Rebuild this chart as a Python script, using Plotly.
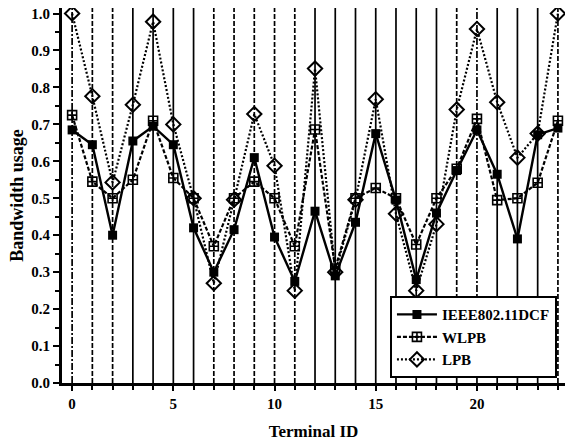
import plotly.graph_objects as go

terminal_ids = list(range(25))
ieee_dcf = [0.685, 0.645, 0.40, 0.655, 0.695, 0.645, 0.42, 0.30, 0.415, 0.61,
            0.395, 0.275, 0.465, 0.29, 0.435, 0.675, 0.495, 0.28, 0.46, 0.575,
            0.685, 0.565, 0.39, 0.672, 0.69]
wlpb = [0.725, 0.545, 0.50, 0.55, 0.71, 0.555, 0.50, 0.37, 0.50, 0.545,
        0.50, 0.37, 0.686, 0.31, 0.50, 0.528, 0.50, 0.375, 0.50, 0.58,
        0.715, 0.495, 0.50, 0.542, 0.71]
lpb = [1.0, 0.776, 0.543, 0.753, 0.978, 0.70, 0.50, 0.27, 0.496, 0.728,
       0.588, 0.25, 0.851, 0.30, 0.496, 0.768, 0.458, 0.25, 0.43, 0.74,
       0.958, 0.76, 0.61, 0.675, 1.0]
grid_styles = ["dashdot", "dash", "dash", "solid", "solid", "solid", "solid",
               "dash", "dash", "dash", "dash", "dash", "solid", "solid", "solid",
               "solid", "solid", "solid", "solid", "dash", "dashdot", "solid",
               "solid", "solid", "dash"]
y_ticks = [0, 0.1, 0.2, 0.3, 0.4, 0.5, 0.6, 0.7, 0.8, 0.9, 1.0]
x_ticks = [0, 5, 10, 15, 20]

FONT = "Liberation Serif"
DASH_MAP = {"solid": "solid", "dash": "5px,2px", "dashdot": "7px,2px,2px,2px"}

fig = go.Figure()

for xid, st in zip(terminal_ids, grid_styles):
    fig.add_shape(type="line", xref="x", yref="paper", x0=xid, x1=xid, y0=0, y1=1,
                  line=dict(color="black", width=1.7, dash=DASH_MAP[st]), layer="below")

fig.add_trace(go.Scatter(x=terminal_ids, y=ieee_dcf, name="<b>IEEE802.11DCF</b>",
                         mode="lines+markers",
                         line=dict(color="black", width=2.4, dash="solid"),
                         marker=dict(symbol="square", size=9, color="black")))
fig.add_trace(go.Scatter(x=terminal_ids, y=wlpb, name="<b>WLPB</b>",
                         mode="lines+markers",
                         line=dict(color="black", width=2.2, dash="4px,2px"),
                         marker=dict(symbol="square-cross-open", size=9, color="black",
                                     line=dict(width=1.6))))
fig.add_trace(go.Scatter(x=terminal_ids, y=lpb, name="<b>LPB</b>",
                         mode="lines+markers",
                         line=dict(color="black", width=2.2, dash="2px,2px"),
                         marker=dict(symbol="diamond-open", size=11, color="black",
                                     line=dict(width=2))))

fig.update_layout(
    width=565, height=442,
    margin=dict(l=62, r=0, t=8, b=59),
    paper_bgcolor="white", plot_bgcolor="white",
    font=dict(family=FONT, color="black", size=14),
    showlegend=True,
    legend=dict(x=0.984, y=0.013, xanchor="right", yanchor="bottom",
                bgcolor="white", bordercolor="black", borderwidth=2,
                font=dict(family=FONT, size=15, color="black"),
                itemwidth=40, tracegroupgap=0),
)

fig.update_xaxes(range=[-0.5, 24.35], tickmode="array",
                 tickvals=x_ticks, ticktext=["<b>%d</b>" % v for v in x_ticks],
                 ticks="outside", ticklen=5, tickwidth=2, tickcolor="black",
                 minor=dict(dtick=1, tick0=0, ticks="outside", ticklen=4,
                            tickwidth=1.5, tickcolor="black", showgrid=False),
                 showgrid=False, zeroline=False,
                 showline=True, linecolor="black", linewidth=3,
                 tickfont=dict(family=FONT, size=15, color="black"),
                 title=dict(text="<b>Terminal ID</b>", standoff=15,
                            font=dict(family=FONT, size=17, color="black")))
fig.update_yaxes(range=[0, 1.015], tickmode="array",
                 tickvals=y_ticks, ticktext=["<b>%.1f</b>" % v for v in y_ticks],
                 ticks="outside", ticklen=6, tickwidth=2, tickcolor="black",
                 minor=dict(dtick=0.05, tick0=0, ticks="outside", ticklen=4,
                            tickwidth=1.5, tickcolor="black", showgrid=False),
                 showgrid=False, zeroline=False,
                 showline=True, linecolor="black", linewidth=3,
                 tickfont=dict(family=FONT, size=15, color="black"),
                 title=dict(text="<b>Bandwidth usage</b>", standoff=3,
                            font=dict(family=FONT, size=18, color="black")))

fig.write_html("out.html")
